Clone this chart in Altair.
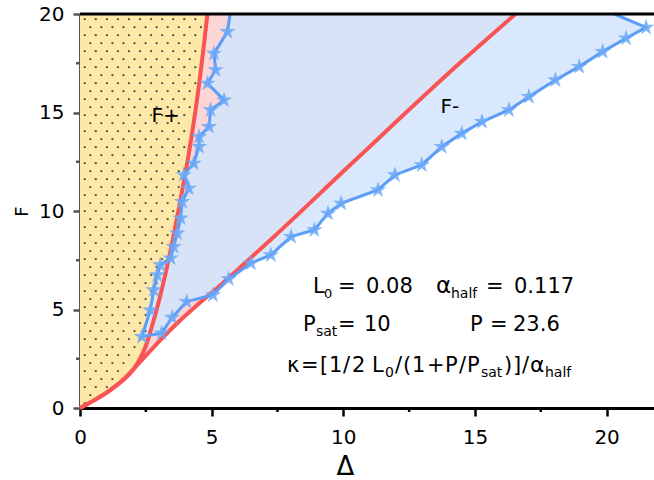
import altair as alt
import numpy as np
import pandas as pd

# ---- boundary curves (red): common stem from the origin, then the F+ and F- edges
stem_x = [0.0, 0.55, 1.15, 1.60, 2.05]
stem_y = [0.0, 0.40, 0.91, 1.38, 2.00]
fplus_edge_x = [2.30, 2.50, 2.70, 3.00, 3.44, 3.82, 4.13, 4.52, 4.84]
fplus_edge_y = [2.55, 3.15, 4.00, 5.45, 8.00, 10.60, 12.90, 16.40, 20.0]
fminus_edge_x = [3.05, 3.69, 5.60, 7.25, 10.43, 14.50, 16.54]
fminus_edge_y = [3.45, 4.30, 6.55, 8.55, 12.55, 17.60, 20.0]

# ---- measured branches (blue, stars)
# F+ branch, from the top edge down to the turning point
up_x = [5.70, 5.60, 5.09, 5.15, 4.84, 5.47, 4.96, 4.90, 4.52, 4.52, 4.32, 3.94,
        4.13, 3.88, 3.82, 3.69, 3.56, 3.44, 3.05, 2.93, 2.80, 2.67, 2.35]
up_y = [20.0, 19.10, 18.00, 17.16, 16.48, 15.63, 15.13, 14.28, 13.77, 13.26, 12.42, 11.83,
        11.15, 10.47, 9.63, 8.87, 8.19, 7.60, 7.26, 6.75, 5.99, 4.97, 3.62]
# F- branch, from the turning point up to the top edge
down_x = [3.10, 3.50, 4.05, 5.05, 5.65, 6.49, 7.25, 8.02, 8.90, 9.42, 9.92, 11.32,
          11.96, 12.98, 13.74, 14.50, 15.27, 16.29, 17.05, 18.06, 18.96, 19.85, 20.74,
          21.50, 20.29]
down_y = [3.80, 4.60, 5.40, 5.74, 6.55, 7.35, 7.77, 8.70, 9.04, 9.88, 10.39, 11.07,
          11.83, 12.34, 13.26, 13.94, 14.53, 15.13, 15.80, 16.65, 17.33, 18.09, 18.77,
          19.32, 20.0]

x_ticks = [0, 5, 10, 15, 20]
y_ticks = [0, 5, 10, 15, 20]
x_minor = [2.5, 7.5, 12.5, 17.5]
y_minor = [2.5, 7.5, 12.5, 17.5]
X_MAX, Y_MAX = 21.8, 20.0

FONT = "DejaVu Sans"
RED = "#f95353"
BLUE = "#5b9cf6"
STAR = "M0,-1L0.2245,-0.309L0.9511,-0.309L0.3633,0.118L0.5878,0.809L0,0.382L-0.5878,0.809L-0.3633,0.118L-0.9511,-0.309L-0.2245,-0.309Z"

W, H = 574, 394

left_x = stem_x + fplus_edge_x
left_y = stem_y + fplus_edge_y
right_x = stem_x + fminus_edge_x
right_y = stem_y + fminus_edge_y


def path(xs, ys):
    return pd.DataFrame({"x": xs, "y": ys, "i": range(len(xs))})


xenc = alt.X(
    "x:Q",
    scale=alt.Scale(domain=[0, X_MAX], nice=False, zero=False),
    axis=alt.Axis(values=x_ticks, title="Δ", grid=False, tickSize=8, tickWidth=2.5,
                  tickColor="black", domainColor="black", domainWidth=3,
                  labelFontSize=20, labelFont=FONT, labelColor="black", labelPadding=11,
                  labelFlush=False, titleFont=FONT, titleFontSize=26,
                  titleFontWeight="normal", titleColor="black", titleX=265, titleY=66,
                  titleBaseline="alphabetic"),
)
yenc = alt.Y(
    "y:Q",
    scale=alt.Scale(domain=[0, Y_MAX], nice=False),
    axis=alt.Axis(values=y_ticks, title="F", grid=False, tickSize=7, tickWidth=2.5,
                  tickColor="#555555", domainColor="#555555", domainWidth=3,
                  labelFontSize=20, labelFont=FONT, labelColor="black", labelPadding=9,
                  labelFlush=False, titleFont=FONT, titleFontSize=18,
                  titleFontWeight="normal", titleColor="black", titleAngle=270,
                  titleX=-53, titleY=197, titleBaseline="alphabetic", titleAlign="center"),
)

# regions: pink above the F- edge, yellow above the F+ edge (drawn over it)
pink = alt.Chart(path(right_x, right_y)).mark_area(
    color="#fcd6d6", interpolate="monotone", opacity=1
).encode(x=xenc, y=yenc, y2=alt.datum(Y_MAX))
yellow = alt.Chart(path(left_x, left_y)).mark_area(
    color="#fde8a8", interpolate="monotone", opacity=1
).encode(x=xenc, y=yenc, y2=alt.datum(Y_MAX))
# area enclosed by the two measured branches
blue_fill = alt.Chart(path(up_x + down_x, up_y + down_y)).mark_line(
    fill="#d4e5fc", fillOpacity=0.88, strokeOpacity=0, strokeWidth=0, interpolate="linear"
).encode(x=xenc, y=yenc, order="i:Q")

# dotted texture inside the yellow region
gy = np.arange(0.25, Y_MAX - 0.1, 0.406)
dots = []
for k, yy in enumerate(gy):
    edge = np.interp(yy, left_y, left_x)
    for xx in np.arange(0.18 + (k % 2) * 0.21, edge - 0.14, 0.42):
        dots.append((xx, yy))
dot_df = pd.DataFrame(dots, columns=["x", "y"])
dot_layer = alt.Chart(dot_df).mark_circle(size=5, color="#3d3d3d", opacity=0.9).encode(x=xenc, y=yenc)

# red boundaries
red_left = alt.Chart(path(left_x, left_y)).mark_line(
    color=RED, strokeWidth=4, interpolate="monotone").encode(x=xenc, y=yenc, order="i:Q")
red_right = alt.Chart(path(right_x, right_y)).mark_line(
    color=RED, strokeWidth=4, interpolate="monotone").encode(x=xenc, y=yenc, order="i:Q")

# blue measured branches with star markers
branch = path(up_x + down_x, up_y + down_y)
blue_line = alt.Chart(branch).mark_line(color=BLUE, strokeWidth=3).encode(
    x=xenc, y=yenc, order="i:Q")
star_df = path(up_x[1:] + down_x[:-1], up_y[1:] + down_y[:-1])
stars = alt.Chart(star_df).mark_point(
    shape=STAR, filled=True, size=300, color="#6ba8f8", opacity=0.85, strokeWidth=0
).encode(x=xenc, y=yenc)

# frame: top edge and minor ticks
top_edge = alt.Chart(pd.DataFrame({"y": [Y_MAX]})).mark_rule(
    color="black", strokeWidth=3).encode(y=yenc)
xminor = alt.Chart(pd.DataFrame({"x": x_minor})).mark_rule(
    color="black", strokeWidth=2.5).encode(x=xenc, y=alt.value(H), y2=alt.value(H + 4))
yminor = alt.Chart(pd.DataFrame({"y": y_minor})).mark_rule(
    color="#555555", strokeWidth=2.5).encode(y=yenc, x=alt.value(-4), x2=alt.value(0))

# region labels
region_labels = alt.Chart(pd.DataFrame({"x": [3.25, 14.05], "y": [14.8, 15.3], "t": ["F+", "F-"]})).mark_text(
    font=FONT, fontSize=20, color="black").encode(x=xenc, y=yenc, text="t:N")

# parameter block: (text, left x, baseline y, font size), in view pixels
layout = [
    # row 1
    ("L", 233, 279, 21), ("0", 244, 284, 13), ("=", 258, 279, 21), ("0.08", 286, 279, 21),
    ("α", 356, 279, 23), ("half", 371, 284, 14), ("=", 406, 279, 21), ("0.117", 434, 279, 21),
    # row 2
    ("P", 223, 317, 21), ("sat", 236, 322, 14), ("=", 258, 317, 21), ("10", 284, 317, 21),
    ("P", 390, 317, 21), ("=", 410, 317, 21), ("23.6", 433, 317, 21),
    # row 3
    ("κ", 207, 358, 21), ("=", 221, 358, 21), ("[", 240, 358, 21), ("1", 249, 358, 21),
    ("/", 263, 358, 21), ("2", 272, 358, 21), ("L", 292, 358, 21), ("0", 305, 363, 14),
    ("/", 315, 358, 21), ("(", 323, 358, 21), ("1", 332, 358, 21), ("+", 347, 358, 21),
    ("P", 365, 358, 21), ("/", 379, 358, 21), ("P", 387, 358, 21), ("sat", 401, 363, 14),
    (")", 424, 358, 21), ("]", 433, 358, 21), ("/", 442, 358, 21), ("α", 450, 358, 22),
    ("half", 465, 363, 14),
]
texts = []
for t, px, py, fs in layout:
    texts.append(
        alt.Chart(pd.DataFrame({"t": [t]})).mark_text(
            font=FONT, fontSize=fs, color="black", align="left", baseline="alphabetic"
        ).encode(text="t:N", x=alt.value(px), y=alt.value(py))
    )

chart = alt.layer(
    pink, yellow, blue_fill, dot_layer, red_left, red_right, blue_line, stars,
    top_edge, xminor, yminor, region_labels, *texts
).properties(
    width=W, height=H,
    autosize=alt.AutoSizeParams(type="none"),
    padding={"left": 80, "top": 14, "right": 0, "bottom": 72},
).configure_view(stroke=None).configure(background="white")

chart.save("out.html", embed_options={"renderer": "svg", "actions": False})
